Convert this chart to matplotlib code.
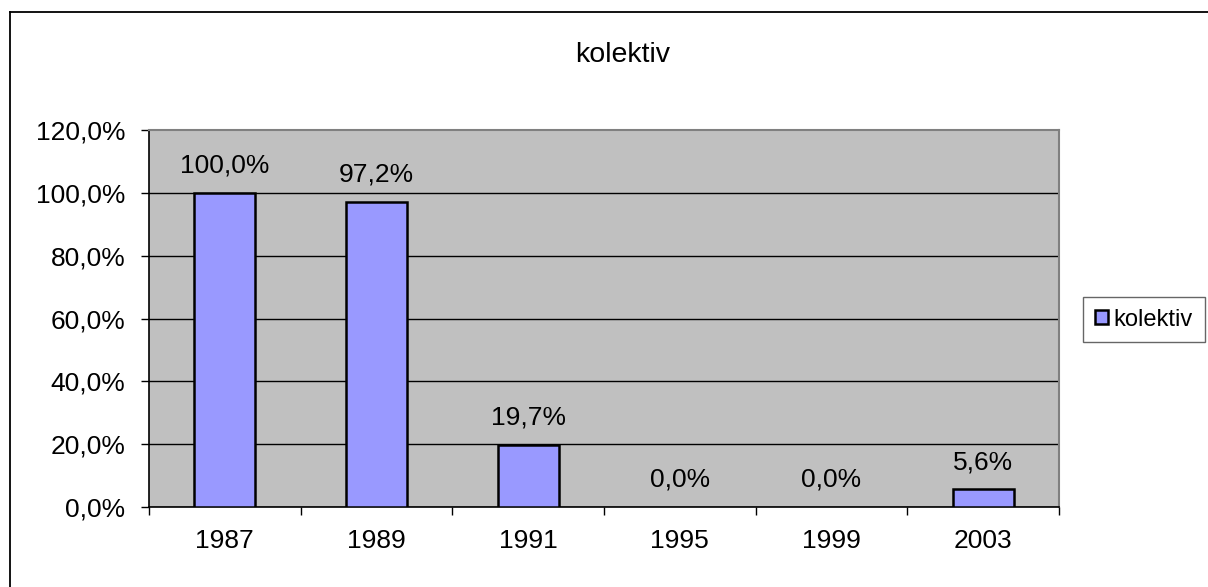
import matplotlib
matplotlib.use("Agg")
import matplotlib.pyplot as plt
from matplotlib.lines import Line2D

# Data
years = ["1987", "1989", "1991", "1995", "1999", "2003"]
kolektiv = [100.0, 97.2, 19.7, 0.0, 0.0, 5.6]
y_ticks = [0, 20, 40, 60, 80, 100, 120]
series_name = "kolektiv"
title = "kolektiv"

plt.rcParams["font.family"] = ["Liberation Sans", "DejaVu Sans"]

W, H = 1208, 587
fig = plt.figure(figsize=(W / 100, H / 100), dpi=100)

# Plot area
left, right, top, bottom = 149, 1059, 130, 507
ax = fig.add_axes([left / W, 1 - bottom / H, (right - left) / W, (bottom - top) / H])
ax.set_facecolor("#C0C0C0")

pos = list(range(len(years)))
bars = ax.bar(pos, kolektiv, width=0.4, color="#9999FF", edgecolor="black",
              linewidth=1.8, label=series_name, zorder=3)
# zero-height bars leave no visible mark
for b, v in zip(bars, kolektiv):
    if v == 0:
        b.set_visible(False)

ax.set_xlim(-0.5, len(years) - 0.5)
ax.set_ylim(y_ticks[0], y_ticks[-1])

def pct(v):
    return f"{v:.1f}%".replace(".", ",")

# Value labels above bars
for p, v in zip(pos, kolektiv):
    ax.annotate(pct(v), (p, v), xytext=(0, 11), textcoords="offset points",
                ha="center", va="bottom", fontsize=19, color="black",
                annotation_clip=False)

# Y axis
ax.set_yticks(y_ticks)
ax.set_yticklabels([pct(t) for t in y_ticks], fontsize=19)
ax.tick_params(axis="y", direction="out", length=6, width=1, color="black", pad=11)

# X axis: labels centered, ticks between categories
ax.set_xticks(pos)
ax.set_xticklabels(years, fontsize=19)
ax.tick_params(axis="x", which="major", length=0, pad=16)
ax.set_xticks([p - 0.5 for p in pos] + [pos[-1] + 0.5], minor=True)
ax.tick_params(axis="x", which="minor", direction="out", length=6, width=1, color="black")

# Gridlines
ax.set_axisbelow(True)
ax.yaxis.grid(True, color="black", linewidth=1)
ax.get_ygridlines()[-1].set_visible(False)

# Spines
for s in ("top", "right"):
    ax.spines[s].set_color("#808080")
    ax.spines[s].set_linewidth(1.5)
for s in ("left", "bottom"):
    ax.spines[s].set_color("black")
    ax.spines[s].set_linewidth(1.2)

# Title
fig.text(623 / W, 1 - 55 / H, title, ha="center", va="center", fontsize=20.5)

# Legend
leg = fig.legend(handles=[bars], labels=[series_name], loc="center left",
                 bbox_to_anchor=(1083 / W, 1 - 319.5 / H), fontsize=17,
                 frameon=True, fancybox=False, shadow=False,
                 handlelength=0.55, handleheight=0.55, handletextpad=0.25,
                 borderpad=0.5, borderaxespad=0)
leg.get_frame().set_edgecolor("#404040")
leg.get_frame().set_linewidth(1)

# Outer chart border (top and left edges)
fig.add_artist(Line2D([10 / W, 1], [1 - 12 / H, 1 - 12 / H], color="black",
                      linewidth=1.3, transform=fig.transFigure))
fig.add_artist(Line2D([10 / W, 10 / W], [0, 1 - 12 / H], color="black",
                      linewidth=1.3, transform=fig.transFigure))

fig.savefig("out.png", dpi=100)
